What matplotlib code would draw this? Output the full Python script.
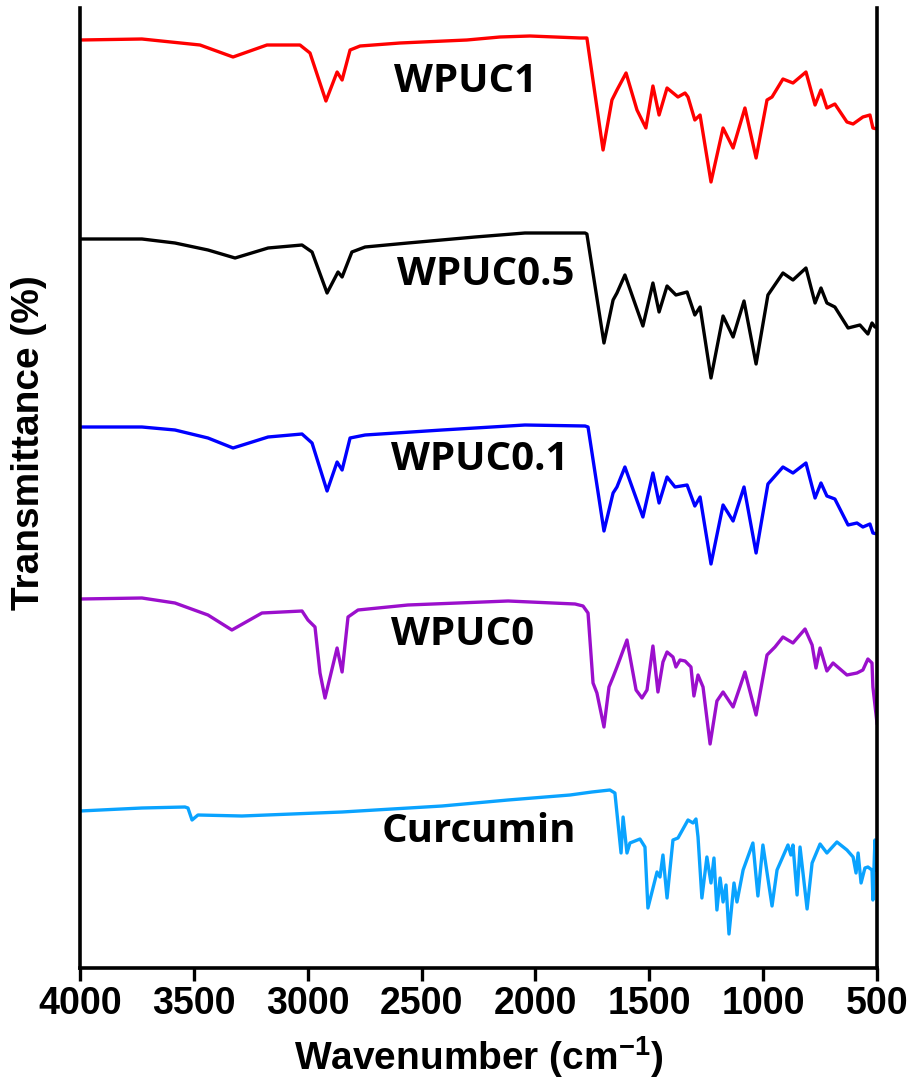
import matplotlib
matplotlib.use("Agg")
import matplotlib.pyplot as plt

# ---------------- data (wavenumber in cm-1, transmittance in arbitrary stacked units) -------------
wpuc1_wn = [4000, 3728, 3473, 3328, 3179, 3034, 2990, 2920, 2871, 2849, 2814, 2770, 2595, 2301, 2156,
            2024, 1804, 1774, 1703, 1664, 1642, 1602, 1554, 1515, 1484, 1457, 1422, 1374, 1343, 1330,
            1300, 1277, 1229, 1176, 1132, 1080, 1031, 983, 961, 913, 869, 812, 772, 746, 720, 685,
            632, 605, 562, 531, 518, 500]
wpuc1_t = [928, 929, 923, 911, 923, 923, 915, 867, 896, 888, 918, 922, 925, 928, 931,
           932, 930, 930, 818, 868, 878, 895, 858, 840, 882, 853, 880, 871, 875, 871,
           848, 853, 786, 840, 820, 860, 810, 868, 871, 889, 885, 896, 863, 878, 860, 864,
           846, 844, 851, 853, 840, 839]

wpuc05_wn = [4000, 3728, 3583, 3438, 3319, 3174, 3025, 2981, 2915, 2867, 2849, 2806, 2748, 2560, 2265,
             2046, 1782, 1774, 1699, 1659, 1642, 1607, 1528, 1484, 1457, 1422, 1383, 1334, 1300, 1277,
             1229, 1176, 1132, 1084, 1031, 979, 913, 869, 812, 772, 746, 720, 685, 627, 575, 540,
             522, 509, 500]
wpuc05_t = [729, 729, 725, 718, 710, 720, 723, 716, 675, 696, 691, 716, 721, 725, 731,
            735, 735, 734, 625, 668, 675, 693, 642, 685, 656, 682, 673, 676, 653, 661,
            590, 652, 631, 667, 604, 673, 695, 688, 700, 665, 680, 665, 661, 640, 643, 634,
            645, 641, 641]

wpuc01_wn = [4000, 3728, 3583, 3438, 3328, 3174, 3025, 2981, 2915, 2871, 2849, 2814, 2748, 2410, 2046,
             1782, 1769, 1699, 1659, 1642, 1607, 1528, 1484, 1457, 1422, 1387, 1334, 1300, 1277, 1229,
             1176, 1132, 1084, 1031, 979, 913, 869, 812, 772, 746, 720, 685, 627, 588, 562, 531,
             518, 500]
wpuc01_t = [541, 541, 538, 530, 520, 531, 534, 525, 477, 506, 498, 530, 533, 538, 543,
            542, 541, 437, 475, 481, 501, 451, 495, 465, 491, 481, 483, 462, 471, 404,
            463, 447, 481, 415, 484, 501, 495, 505, 470, 485, 472, 469, 443, 445, 441, 444,
            435, 434]

wpuc0_wn = [4000, 3728, 3583, 3438, 3333, 3201, 3025, 2999, 2968, 2946, 2924, 2871, 2849, 2823, 2779,
            2560, 2120, 1826, 1791, 1769, 1747, 1730, 1699, 1677, 1659, 1642, 1598, 1558, 1532, 1510,
            1484, 1462, 1440, 1422, 1396, 1383, 1365, 1343, 1317, 1304, 1286, 1264, 1233, 1203, 1176,
            1132, 1102, 1080, 1031, 983, 948, 913, 869, 816, 785, 768, 750, 720, 693, 632, 588,
            562, 540, 522, 518, 500]
wpuc0_t = [369, 370, 365, 353, 338, 355, 357, 348, 341, 295, 270, 320, 296, 351, 358,
           363, 367, 364, 362, 355, 285, 275, 241, 281, 291, 301, 328, 278, 270, 278,
           322, 276, 306, 316, 311, 301, 308, 307, 301, 272, 293, 281, 224, 267, 276,
           261, 281, 296, 253, 313, 321, 331, 325, 339, 323, 300, 320, 297, 305, 293, 295,
           298, 309, 305, 281, 245]

curcumin_wn = [4000, 3728, 3539, 3526, 3508, 3482, 3289, 2849, 2410, 2120, 1848, 1752, 1673, 1651, 1624,
               1615, 1598, 1585, 1541, 1519, 1506, 1466, 1453, 1440, 1422, 1396, 1374, 1330, 1308, 1295,
               1286, 1269, 1247, 1229, 1216, 1203, 1189, 1176, 1163, 1150, 1128, 1115, 1088, 1045, 1023,
               1001, 961, 939, 891, 878, 869, 851, 838, 807, 785, 750, 720, 676, 632, 605, 592,
               583, 570, 553, 540, 522, 518, 509, 500]
curcumin_t = [157, 160, 161, 160, 148, 153, 152, 156, 162, 168, 173, 176, 178, 175, 115,
              151, 115, 125, 129, 121, 60, 96, 91, 113, 70, 128, 130, 148, 145, 149,
              131, 70, 111, 85, 110, 58, 90, 66, 83, 34, 85, 66, 98, 125, 72,
              123, 62, 98, 123, 113, 123, 73, 121, 59, 105, 124, 115, 126, 118, 111, 95,
              115, 85, 100, 101, 98, 68, 128, 98]

series = [
    ("WPUC1", wpuc1_wn, wpuc1_t, "#FF0000"),
    ("WPUC0.5", wpuc05_wn, wpuc05_t, "#000000"),
    ("WPUC0.1", wpuc01_wn, wpuc01_t, "#0000FF"),
    ("WPUC0", wpuc0_wn, wpuc0_t, "#9B0FCC"),
    ("Curcumin", curcumin_wn, curcumin_t, "#0AA3FF"),
]
x_ticks = [4000, 3500, 3000, 2500, 2000, 1500, 1000, 500]

# ---------------- figure -------------
plt.rcParams["mathtext.fontset"] = "custom"
plt.rcParams["mathtext.rm"] = "Liberation Sans:bold"
plt.rcParams["mathtext.bf"] = "Liberation Sans:bold"
plt.rcParams["mathtext.it"] = "Liberation Sans:bold"

W, H = 917, 1082
fig = plt.figure(figsize=(W / 100, H / 100), dpi=100)
ax = fig.add_axes([80 / W, 114 / H, (877 - 80) / W, (968 - 8) / H])

for name, wn, t, col in series:
    ax.plot(wn, t, color=col, lw=2.4, solid_joinstyle="round")

ax.set_xlim(4000, 500)
ax.set_ylim(0, 960)
ax.set_xticks(x_ticks)
ax.set_xticklabels([str(v) for v in x_ticks], fontfamily="Liberation Sans",
                   fontweight="bold", fontsize=27)
ax.set_yticks([])
ax.tick_params(axis="x", direction="out", length=9, width=2.4, pad=4)
for s in ["left", "bottom", "right"]:
    ax.spines[s].set_linewidth(2.6)
ax.spines["top"].set_visible(False)

ax.set_xlabel(r"Wavenumber (cm$^{-1}$)", fontfamily="Liberation Sans",
              fontweight="bold", fontsize=28)
ax.xaxis.set_label_coords(0.5, -0.069)
ax.set_ylabel("Transmittance (%)", fontfamily="Liberation Sans",
              fontweight="bold", fontsize=28)
ax.yaxis.set_label_coords(-0.042, 0.547)

label_kw = dict(fontfamily="Open Sans", fontweight="bold", fontsize=29,
                ha="center", va="baseline", color="black")
ax.text(2305, 876, "WPUC1", **label_kw)
ax.text(2217, 683, "WPUC0.5", **label_kw)
ax.text(2243, 498, "WPUC0.1", **label_kw)
ax.text(2322, 323, "WPUC0", **label_kw)
ax.text(2250, 126, "Curcumin", **label_kw)

fig.savefig("out.png", dpi=100)
